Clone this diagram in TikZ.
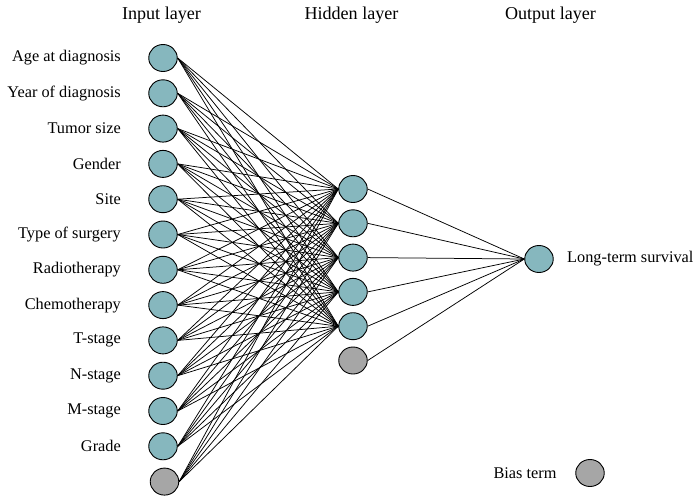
\documentclass[tikz,border=0pt]{standalone}
\usepackage{fontspec}
\setmainfont{Liberation Serif}
\usetikzlibrary{shapes.geometric}
\definecolor{teal}{RGB}{134,183,190}
\definecolor{biasgray}{RGB}{166,166,166}
\begin{document}
\begin{tikzpicture}[x=1pt,y=-1pt,
  neuron/.style={ellipse,draw=black,line width=0.9pt,fill=teal,minimum width=28.5pt,minimum height=27pt,inner sep=0pt},
  biasn/.style={neuron,fill=biasgray},
  lab/.style={font=\fontsize{16.3}{19}\selectfont,inner sep=0pt},
  inlab/.style={lab,anchor=east},
  head/.style={font=\fontsize{18.1}{21}\selectfont,inner sep=0pt},
  conn/.style={line width=0.75pt}]
\useasboundingbox (0,0) rectangle (694,498);
\node[head] (hin) at (161.5,15.5) {Input layer};
\node[head] (hhid) at (351.5,15.5) {Hidden layer};
\node[head] (hout) at (550.5,15.5) {Output layer};
\foreach \i/\t in {0/Age at diagnosis,1/Year of diagnosis,2/Tumor size,3/Gender,4/Site,5/Type of surgery,6/Radiotherapy,7/Chemotherapy,8/T-stage,9/N-stage,10/M-stage,11/Grade}{
  \node[neuron] (i\i) at (163,58+35.3*\i) {};
  \node[inlab] (l\i) at (121,58+35.3*\i) {\t};
}
\node[biasn] (i12) at (164.5,481.6) {};
\foreach \j in {0,...,4}{
  \node[neuron] (h\j) at (353,189+34.3*\j) {};
}
\node[biasn] (h5) at (353,360.5) {};
\node[neuron] (o) at (539,259) {};
\node[lab,anchor=west] (ol) at (567,259) {Long-term survival};
\node[biasn] (bl) at (590,473) {};
\node[lab] (blt) at (525,473) {Bias term};
\foreach \i in {0,...,12}{
  \foreach \j in {0,...,4}{
    \draw[conn] (i\i.east) -- (h\j.west);
  }
}
\foreach \j in {0,...,5}{
  \draw[conn] (h\j.east) -- (o.west);
}
\end{tikzpicture}
\end{document}
